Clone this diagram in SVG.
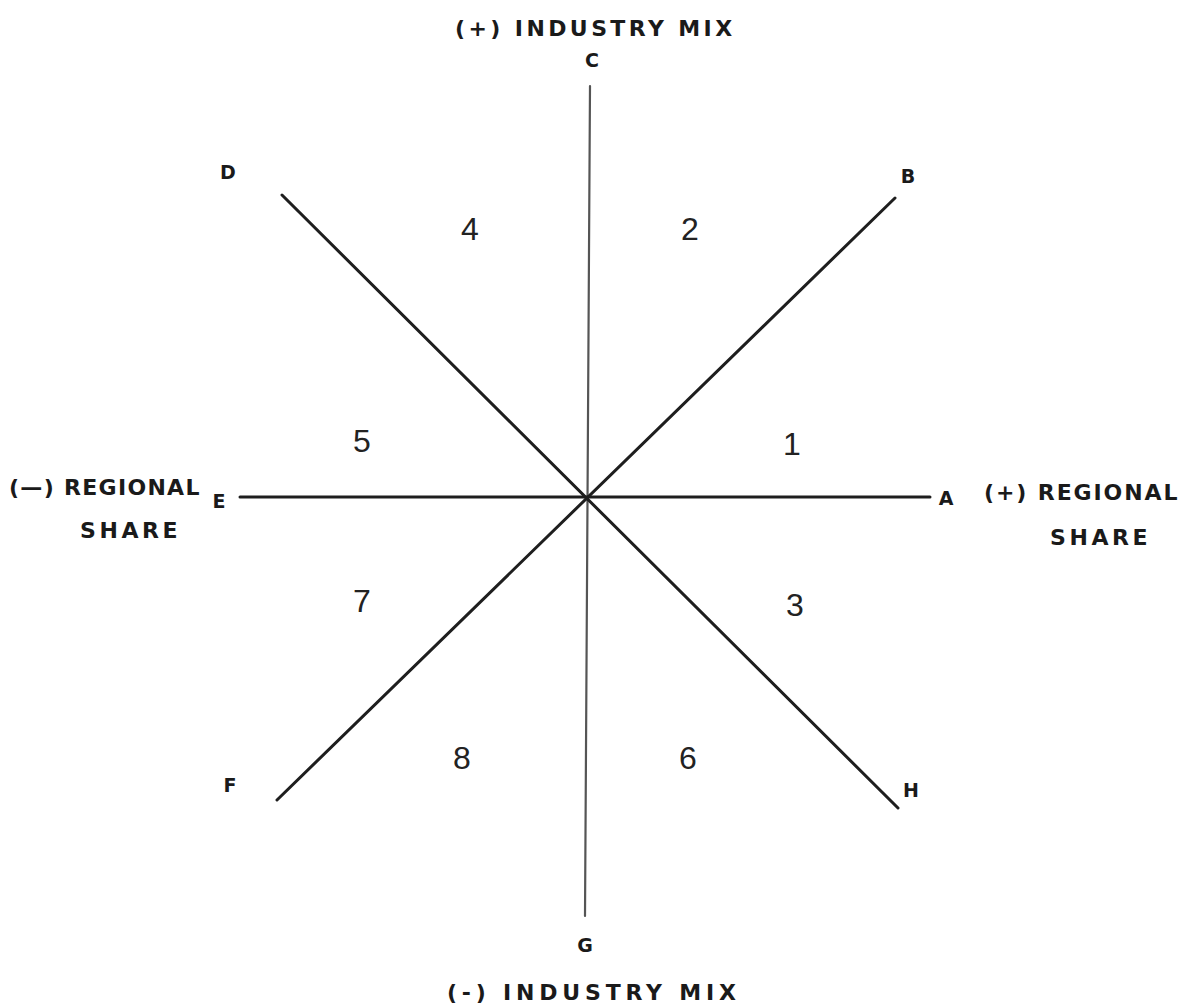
<svg xmlns="http://www.w3.org/2000/svg" width="1186" height="1007" viewBox="0 0 1186 1007">
<style>
.lbl{font-family:"DejaVu Sans","Liberation Sans",sans-serif;font-weight:bold;font-size:22px;fill:#1a1a1a;letter-spacing:1.5px}
.pt{font-family:"DejaVu Sans","Liberation Sans",sans-serif;font-weight:bold;font-size:19px;fill:#1a1a1a}
.num{font-family:"Liberation Sans",Arial,sans-serif;font-size:32px;fill:#222;text-anchor:middle}
.ax{stroke:#1e1e1e;stroke-width:3;stroke-linecap:round;fill:none}
.vx{stroke:#555;stroke-width:2.2;stroke-linecap:round;fill:none}
</style>
<rect width="1186" height="1007" fill="#fff"/>
<g id="connectors">
<line class="vx" x1="590" y1="86" x2="585" y2="916"/>
<line class="ax" x1="240" y1="497" x2="930" y2="497"/>
<line class="ax" x1="282" y1="195" x2="898" y2="808"/>
<line class="ax" x1="895" y1="198" x2="277" y2="800"/>
</g>
<g id="axis-labels">
<text class="lbl" x="455" y="36" style="letter-spacing:3.4px">(+) INDUSTRY  MIX</text>
<text class="lbl" x="447" y="1000" style="letter-spacing:4.8px">(-) INDUSTRY  MIX</text>
<text class="lbl" x="9" y="495" style="letter-spacing:1.3px">(—) REGIONAL</text>
<text class="lbl" x="80" y="538" style="letter-spacing:3.6px">SHARE</text>
<text class="lbl" x="984" y="500" style="letter-spacing:1.9px">(+) REGIONAL</text>
<text class="lbl" x="1050" y="545" style="letter-spacing:3.6px">SHARE</text>
</g>
<g id="points">
<text class="pt" x="592" y="67" text-anchor="middle">C</text>
<text class="pt" x="228" y="179" text-anchor="middle">D</text>
<text class="pt" x="908" y="183" text-anchor="middle">B</text>
<text class="pt" x="946" y="505" text-anchor="middle">A</text>
<text class="pt" x="219" y="508" text-anchor="middle">E</text>
<text class="pt" x="911" y="797" text-anchor="middle">H</text>
<text class="pt" x="230" y="792" text-anchor="middle">F</text>
<text class="pt" x="585" y="952" text-anchor="middle">G</text>
</g>
<g id="regions">
<text class="num" x="470" y="240">4</text>
<text class="num" x="690" y="240">2</text>
<text class="num" x="792" y="455">1</text>
<text class="num" x="362" y="452">5</text>
<text class="num" x="795" y="616">3</text>
<text class="num" x="362" y="612">7</text>
<text class="num" x="462" y="769">8</text>
<text class="num" x="688" y="769">6</text>
</g>
</svg>
